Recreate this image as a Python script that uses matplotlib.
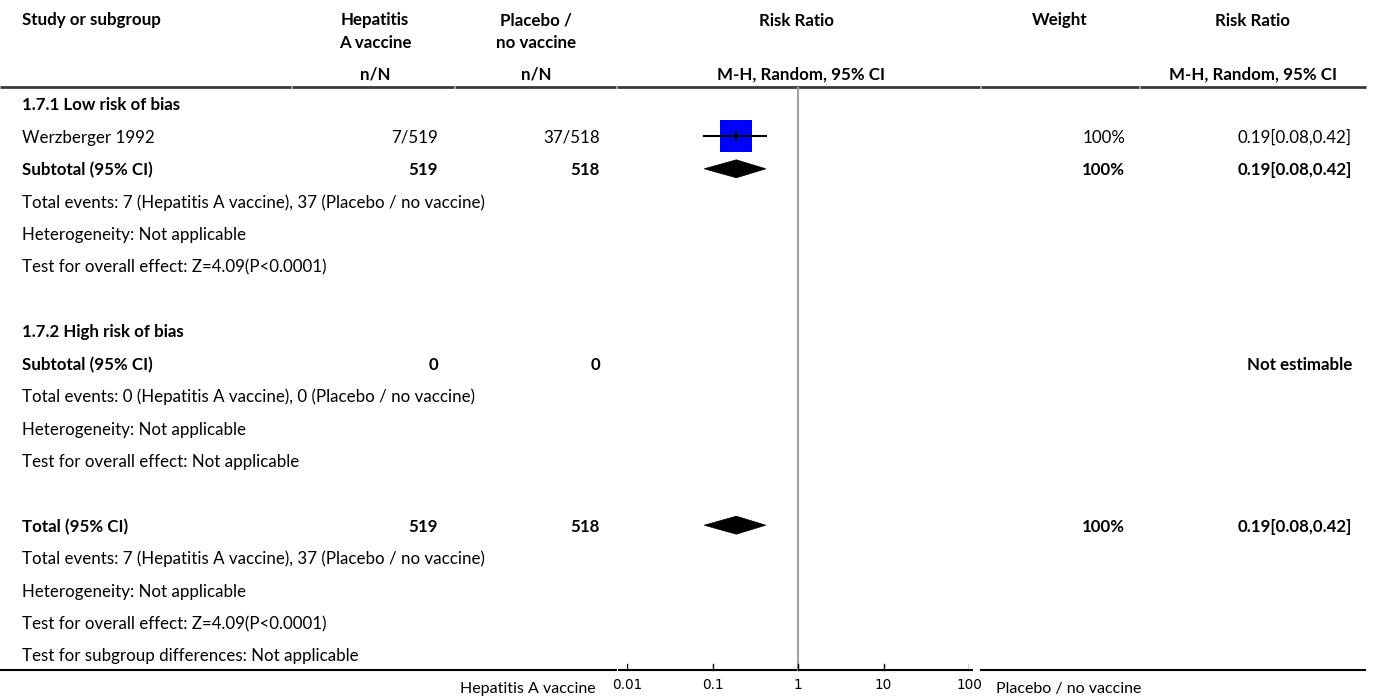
import matplotlib
matplotlib.use("Agg")
import matplotlib.pyplot as plt
from matplotlib.patches import Polygon

plt.rcParams['font.family'] = ['Lato', 'DejaVu Sans']

# ---------------- data ----------------
group_labels = ["1.7.1 Low risk of bias", "1.7.2 High risk of bias"]
study_names = ["Werzberger 1992"]
vacc_events = [7]
vacc_total = [519]
plac_events = [37]
plac_total = [518]
study_rr = [0.19]
study_lo = [0.08]
study_hi = [0.42]
study_weight = ["100%"]

sub_vacc_n = [519, 0]
sub_plac_n = [518, 0]
sub_rr = [0.19, None]
sub_lo = [0.08, None]
sub_hi = [0.42, None]
sub_weight = ["100%", ""]
sub_text = ["0.19[0.08,0.42]", "Not estimable"]
sub_notes = [
    ["Total events: 7 (Hepatitis A vaccine), 37 (Placebo / no vaccine)",
     "Heterogeneity: Not applicable",
     "Test for overall effect: Z=4.09(P<0.0001)"],
    ["Total events: 0 (Hepatitis A vaccine), 0 (Placebo / no vaccine)",
     "Heterogeneity: Not applicable",
     "Test for overall effect: Not applicable"],
]
total_vacc_n = 519
total_plac_n = 518
total_rr, total_lo, total_hi = 0.19, 0.08, 0.42
total_weight = "100%"
total_text = "0.19[0.08,0.42]"
total_notes = ["Total events: 7 (Hepatitis A vaccine), 37 (Placebo / no vaccine)",
               "Heterogeneity: Not applicable",
               "Test for overall effect: Z=4.09(P<0.0001)",
               "Test for subgroup differences: Not applicable"]
tick_values = [0.01, 0.1, 1, 10, 100]
tick_labels = ["0.01", "0.1", "1", "10", "100"]
left_label = "Hepatitis A vaccine"
right_label = "Placebo / no vaccine"

# ---------------- layout ----------------
W, H = 1375, 700
fig = plt.figure(figsize=(W / 100, H / 100), dpi=100)
ax = fig.add_axes([0, 0, 1, 1])
ax.set_xlim(0, W)
ax.set_ylim(H, 0)
ax.axis('off')

PX0, PX1 = 627, 969   # plot column: 0.01 .. 100
pax = fig.add_axes([PX0 / W, 0, (PX1 - PX0) / W, 1])
pax.set_xscale('log')
pax.set_xlim(0.01, 100)
pax.set_ylim(H, 0)
pax.axis('off')

FS = 12.2
ROW0, DY = 104, 32.4
TOFF = 1.5

X_STUDY = 22
X_VAC_R, X_PLA_R = 438, 600
X_VAC_C, X_PLA_C = 375, 536
X_W_R, X_W_C = 1125, 1060
X_RR_R, X_RR_C = 1352, 1253
X_PLOT_C = 799

def row_y(i):
    return ROW0 + DY * i

def txt(x, y, s, ha='left', bold=False, size=FS, **kw):
    ax.text(x, y + TOFF, s, ha=ha, va='center', fontsize=size,
            fontweight='bold' if bold else 'normal', color='black', **kw)

# header
HY1, HY2, HY3 = 19, 42, 73
txt(X_STUDY, HY1, "Study or subgroup", bold=True)
txt(X_VAC_C, HY1, "Hepatitis", ha='center', bold=True)
txt(X_VAC_C, HY2, "A vaccine", ha='center', bold=True)
txt(X_PLA_C, HY1, "Placebo /", ha='center', bold=True)
txt(X_PLA_C, HY2, "no vaccine", ha='center', bold=True)
txt(X_VAC_C, HY3, "n/N", ha='center', bold=True)
txt(X_PLA_C, HY3, "n/N", ha='center', bold=True)
txt(X_PLOT_C - 2, HY1, "Risk Ratio", ha='center', bold=True)
txt(X_PLOT_C + 2, HY3, "M-H, Random, 95% CI", ha='center', bold=True)
txt(X_W_C, HY1, "Weight", ha='center', bold=True)
txt(X_RR_C, HY1, "Risk Ratio", ha='center', bold=True)
txt(X_RR_C, HY3, "M-H, Random, 95% CI", ha='center', bold=True)

LINE_Y = 87
for a, b in [(0, 291), (292, 454), (455, 616), (617, 980), (981, 1139), (1140, 1366)]:
    ax.plot([a, b], [LINE_Y, LINE_Y], color='#3a3a3a', lw=2.0, solid_capstyle='butt')

def draw_diamond(r, lo, hi, y):
    h = 9
    pax.add_patch(Polygon([(lo, y), (r, y - h), (hi, y), (r, y + h)],
                          closed=True, facecolor='black', edgecolor='black', lw=0.5))

row = 0
for g, glabel in enumerate(group_labels):
    txt(X_STUDY, row_y(row), glabel, bold=True)
    row += 1
    if g == 0:
        for s, name in enumerate(study_names):
            y = row_y(row)
            txt(X_STUDY, y, name)
            txt(X_VAC_R, y, f"{vacc_events[s]}/{vacc_total[s]}", ha='right')
            txt(X_PLA_R, y, f"{plac_events[s]}/{plac_total[s]}", ha='right')
            txt(X_W_R, y, study_weight[s], ha='right')
            txt(X_RR_R, y, f"{study_rr[s]:.2f}[{study_lo[s]:.2f},{study_hi[s]:.2f}]", ha='right')
            pax.plot([study_rr[s]], [y], marker='s', markersize=22.5, color='#0000ff',
                     markeredgewidth=0, zorder=2)
            pax.plot([study_lo[s], study_hi[s]], [y, y], color='black', lw=1.5, zorder=3)
            pax.plot([study_rr[s]], [y], marker='|', markersize=7, color='black',
                     markeredgewidth=1.5, zorder=3)
            row += 1
    y = row_y(row)
    txt(X_STUDY, y, "Subtotal (95% CI)", bold=True)
    txt(X_VAC_R, y, str(sub_vacc_n[g]), ha='right', bold=True)
    txt(X_PLA_R, y, str(sub_plac_n[g]), ha='right', bold=True)
    if sub_weight[g]:
        txt(X_W_R, y, sub_weight[g], ha='right', bold=True)
    txt(X_RR_R, y, sub_text[g], ha='right', bold=True)
    if sub_rr[g] is not None:
        draw_diamond(sub_rr[g], sub_lo[g], sub_hi[g], y)
    row += 1
    for note in sub_notes[g]:
        txt(X_STUDY, row_y(row), note)
        row += 1
    row += 1

y = row_y(row)
txt(X_STUDY, y, "Total (95% CI)", bold=True)
txt(X_VAC_R, y, str(total_vacc_n), ha='right', bold=True)
txt(X_PLA_R, y, str(total_plac_n), ha='right', bold=True)
txt(X_W_R, y, total_weight, ha='right', bold=True)
txt(X_RR_R, y, total_text, ha='right', bold=True)
draw_diamond(total_rr, total_lo, total_hi, y)
row += 1
for note in total_notes:
    txt(X_STUDY, row_y(row), note)
    row += 1

# axis
AX_Y = 670
pax.plot([1, 1], [LINE_Y + 1, AX_Y], color='#a0a0a0', lw=1.5, zorder=1)
for a, b in [(0, 617), (980, 1366)]:
    ax.plot([a, b], [AX_Y, AX_Y], color='black', lw=1.5, solid_capstyle='butt')
ax.plot([618, 973], [AX_Y, AX_Y], color='black', lw=1.5, solid_capstyle='butt')
for tv, tl in zip(tick_values, tick_labels):
    pax.plot([tv, tv], [AX_Y, AX_Y - 6], color='black', lw=1.0)
    pax.text(tv, 685, tl, ha='center', va='center', fontsize=9.8,
             family='DejaVu Sans', color='black')
txt(596, 687, left_label, ha='right', size=FS - 0.7)
txt(996, 687, right_label, ha='left', size=FS - 0.7)

fig.savefig("out.png", dpi=100)
